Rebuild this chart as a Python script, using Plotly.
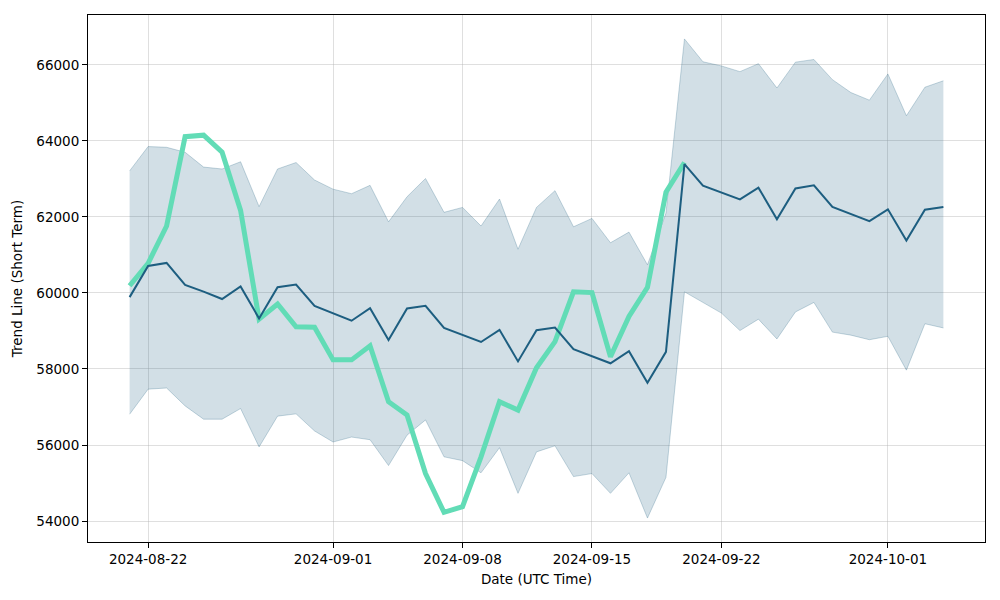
import pandas as pd
import plotly.graph_objects as go

dates = pd.date_range("2024-08-21", "2024-10-04", freq="D")

trend = [59890, 60710, 60790, 60210, 60035, 59840, 60170, 59330, 60150, 60220,
         59660, 59470, 59270, 59600, 58760, 59590, 59660, 59080, 58890, 58710,
         59030, 58200, 59020, 59090, 58520, 58330, 58150, 58470, 57640, 58450,
         63390, 62820, 62640, 62460, 62770, 61940, 62750, 62830, 62260, 62080,
         61890, 62200, 61380, 62190, 62260]

upper = [63210, 63850, 63830, 63700, 63310, 63260, 63450, 62270, 63260, 63430,
         62970, 62730, 62610, 62830, 61870, 62530, 63010, 62120, 62250, 61760,
         62470, 61150, 62250, 62690, 61740, 61960, 61320, 61600, 60740, 62100,
         66680, 66080, 65970, 65820, 66030, 65390, 66070, 66140, 65610, 65270,
         65070, 65760, 64660, 65410, 65580]

lower = [56810, 57470, 57500, 57030, 56680, 56680, 56960, 55950, 56760, 56820,
         56370, 56080, 56210, 56140, 55460, 56260, 56660, 55690, 55590, 55270,
         55930, 54730, 55820, 55980, 55170, 55250, 54730, 55270, 54080, 55150,
         60030, 59750, 59470, 59010, 59310, 58790, 59500, 59750, 58970, 58890,
         58770, 58860, 57970, 59190, 59080]

actual = [60190, 60780, 61760, 64110, 64150, 63700, 62170, 59310, 59710, 59110,
          59100, 58240, 58240, 58610, 57140, 56790, 55250, 54230, 54380, 55690,
          57140, 56920, 58030, 58720, 60030, 60010, 58320, 59380, 60150, 62650,
          63430]

x_ticks = ["2024-08-22", "2024-09-01", "2024-09-08", "2024-09-15", "2024-09-22", "2024-10-01"]
y_ticks = [54000, 56000, 58000, 60000, 62000, 64000, 66000]

fig = go.Figure()
fig.add_trace(go.Scatter(x=dates, y=upper, mode="lines",
                         line=dict(color="rgba(31,94,128,0.25)", width=1),
                         showlegend=False, hoverinfo="skip"))
fig.add_trace(go.Scatter(x=dates, y=lower, mode="lines", fill="tonexty",
                         fillcolor="rgba(31,94,128,0.20)",
                         line=dict(color="rgba(31,94,128,0.25)", width=1),
                         showlegend=False, hoverinfo="skip"))
fig.add_trace(go.Scatter(x=dates[:len(actual)], y=actual, mode="lines",
                         line=dict(color="#62dcb6", width=5),
                         showlegend=False))
fig.add_trace(go.Scatter(x=dates, y=trend, mode="lines",
                         line=dict(color="#1d5e80", width=2),
                         showlegend=False))

font = dict(family="DejaVu Sans", size=13.5, color="black")
fig.update_layout(
    width=1000, height=600,
    margin=dict(l=80, r=23, t=7, b=66),
    paper_bgcolor="white", plot_bgcolor="white",
    font=font,
)
fig.update_xaxes(
    range=["2024-08-18 18:00", "2024-10-06 06:00"],
    tickvals=x_ticks, ticktext=x_ticks,
    showgrid=True, gridcolor="rgba(176,176,176,0.4)", gridwidth=1,
    showline=True, linecolor="black", linewidth=1, mirror=True,
    ticks="outside", ticklen=5, tickcolor="black",
    title=dict(text="Date (UTC Time)", font=font, standoff=8),
    zeroline=False,
)
fig.update_yaxes(
    range=[53450, 67310],
    tickvals=y_ticks, ticktext=[str(v) for v in y_ticks],
    showgrid=True, gridcolor="rgba(176,176,176,0.4)", gridwidth=1,
    showline=True, linecolor="black", linewidth=1, mirror=True,
    ticks="outside", ticklen=5, tickcolor="black",
    title=dict(text="Trend Line (Short Term)", font=font, standoff=10),
    zeroline=False,
)
fig.write_html("out.html")
